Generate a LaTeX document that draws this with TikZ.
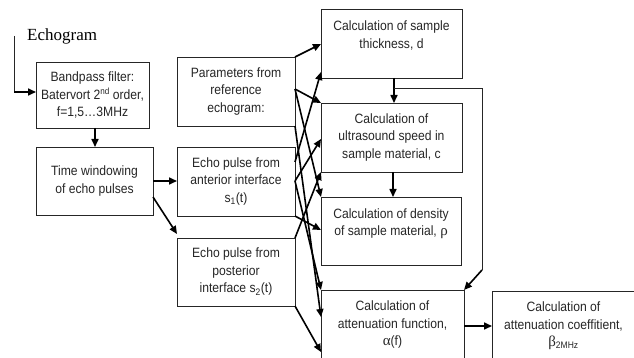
\documentclass[tikz,border=0pt]{standalone}
\usepackage{fontspec}
\setmainfont{Liberation Sans}[FakeStretch=0.9]
\newfontfamily\serifgr{Liberation Serif}
\newfontfamily\serifmain{Liberation Serif}
\usetikzlibrary{arrows.meta,calc}
\tikzset{
  box/.style={draw=black!85, line width=0.8pt, inner sep=0pt, outer sep=0pt, anchor=north west,
    align=center, font=\fontsize{13.5}{17.5}\selectfont, text=black!85},
  arr/.style={line width=1.6pt, -{Triangle[length=8pt,width=7pt]}},
  thinline/.style={line width=0.8pt, draw=black!85}
}
\begin{document}
\begin{tikzpicture}[x=1pt,y=-1pt]
\useasboundingbox (0,0) rectangle (634,358);
\clip (0,0) rectangle (634,358);
\fill[white] (0,0) rectangle (634,358);

\node[anchor=west, font=\serifmain\fontsize{17}{20}\selectfont, inner sep=0pt] (echo) at (27,36) {Echogram};

\node[box, minimum width=113pt, minimum height=66pt] (bp) at (36,62)
  {Bandpass filter:\\Batervort 2{\fontsize{9}{9}\selectfont\raisebox{0.45em}{nd}} order,\\f=1,5\dots3MHz};
\node[box, minimum width=117pt, minimum height=68pt] (tw) at (36,147)
  {Time windowing\\of echo pulses};
\node[box, minimum width=118pt, minimum height=69pt] (pa) at (177,57)
  {Parameters from\\reference\\echogram:};
\node[box, minimum width=118pt, minimum height=69pt] (an) at (177,147)
  {Echo pulse from\\anterior interface\\s\textsubscript{1}(t)};
\node[box, minimum width=118pt, minimum height=68pt] (po) at (177,238)
  {Echo pulse from\\posterior\\interface s\textsubscript{2}(t)};
\node[box, minimum width=141pt, minimum height=69pt] (th) at (321,9)
  {Calculation of sample\\thickness, d\\\mbox{}};
\node[box, minimum width=141pt, minimum height=69pt] (us) at (321,103)
  {Calculation of\\ultrasound speed in\\sample material, c};
\node[box, minimum width=140pt, minimum height=68pt] (de) at (321,197)
  {Calculation of density\\of sample material, {\serifgr\fontsize{15}{17.5}\selectfont ρ}\\\mbox{}};
\node[box, minimum width=143pt, minimum height=70pt] (af) at (321,290)
  {Calculation of\\attenuation function,\\{\serifgr\fontsize{15}{17.5}\selectfont α}(f)};
\node[box, minimum width=143pt, minimum height=70pt] (ac) at (492,291)
  {Calculation of\\attenuation coeffitient,\\{\serifgr\fontsize{15}{17.5}\selectfont β}\textsubscript{2MHz}};

% echogram input
\coordinate (e0) at (14,36);
\coordinate (e1) at (14,92);
\draw[thinline] (e0) -- (e1);
\draw[arr] (e1) -- (e1 -| bp.west);

% left column
\draw[arr] ([xshift=2.5pt]bp.south) -- ([xshift=2.5pt]bp.south |- tw.north);
\draw[arr] (tw.east) -- (tw.east -| an.west);
\draw[arr] ([yshift=-50pt]tw.north east) -- ([yshift=4pt]po.north west);

% crossing connectors
\draw[arr] (pa.north east) -- ([yshift=-35pt]th.north west);
\draw[arr] ([yshift=-32pt]pa.north east) -- (us.north west);
\draw[arr] ([yshift=-32pt]pa.north east) -- (de.north west);
\draw[arr] (pa.south east) -- ([yshift=-27pt]af.north west);
\draw[arr] ([yshift=-15pt]an.north east) -- ([yshift=6pt]th.south west);
\draw[arr] ([yshift=-34pt]an.north east) -- ([yshift=-36pt]us.north west);
\draw[arr] ([yshift=-34pt]an.north east) -- (af.north west);
\draw[arr] (an.south east) -- ([yshift=-33pt]de.north west);
\draw[arr] (po.north east) -- (us.south west);
\draw[arr] (po.south east) -- ([yshift=-62pt]af.north west);

% right column
\draw[arr] ([xshift=2.5pt]th.south) -- ([xshift=2.5pt]th.south |- us.north);
\draw[arr] ([xshift=1.5pt]us.south) -- ([xshift=1.5pt]us.south |- de.north);
\coordinate (fb1) at (482,88);
\coordinate (fb2) at (482,270);
\draw[thinline] ([xshift=2.5pt,yshift=-10pt]th.south) -- (fb1) -- (fb2);
\draw[arr] (fb2) -- (af.north east);
\draw[arr] (af.east |- ac.west) -- (ac.west);
\end{tikzpicture}
\end{document}
